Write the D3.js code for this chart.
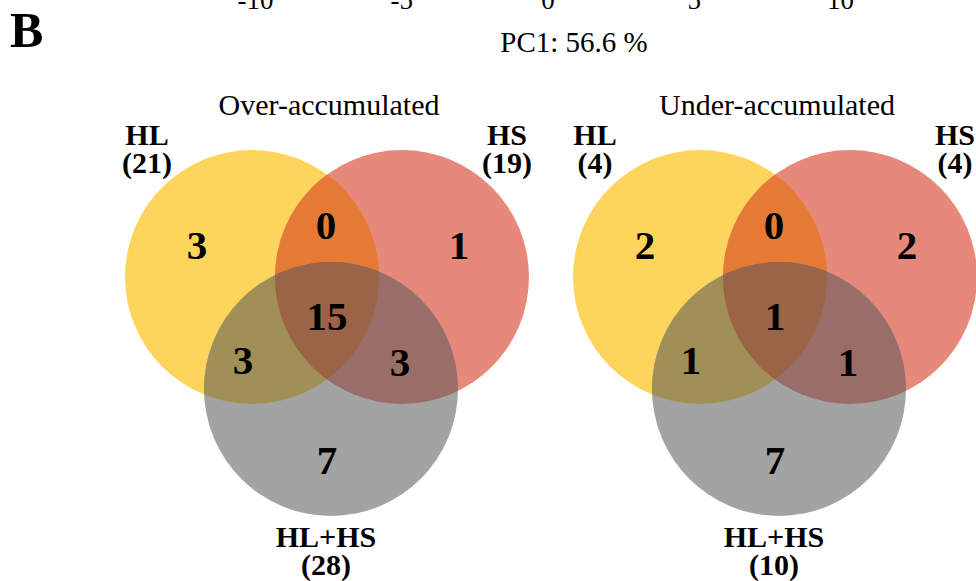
<!DOCTYPE html>
<html>
<head>
<meta charset="utf-8">
<script src="https://cdn.jsdelivr.net/npm/d3@7"></script>
<style>
  html, body { margin: 0; padding: 0; background: #fff; }
  svg { display: block; }
  text { font-family: "Liberation Serif", "Times New Roman", serif; fill: #000; }
</style>
</head>
<body>
<svg id="chart" width="976" height="581"></svg>
<script>
// PC1 axis ticks of the panel above (only their lower edge shows here)
const pcTicks = [-10, -5, 0, 5, 10];
const pcAxisTitle = "PC1: 56.6 %";
const panelLetter = "B";

// Venn panels
const panelTitles = ["Over-accumulated", "Under-accumulated"];
const setNames = ["HL", "HS", "HL+HS"];
const setTotals = [[21, 19, 28], [4, 4, 10]];
// region order: HL only, HS only, HL∩HS only, HL+HS only, HL∩HL+HS only, HS∩HL+HS only, all three
const regionKeys = ["a", "b", "ab", "c", "ac", "bc", "abc"];
const regionCounts = [
  [3, 1, 0, 7, 3, 3, 15],
  [2, 2, 0, 7, 1, 1, 1]
];

const setColors = ["#fdd55c", "#e7897a", "#a3a3a3"];
const overlapColors = { ab: "#e57a34", ac: "#a19056", bc: "#9a6e68", abc: "#9b6447" };

const serif = '"Liberation Serif", "Times New Roman", serif';
const svg = d3.select("#chart");

// Axis tick labels at the very top
const x = d3.scaleLinear().domain([-10, 10]).range([255, 840]);
const axis = svg.append("g")
  .attr("transform", "translate(0,-19.5)")
  .call(d3.axisBottom(x).tickValues(pcTicks).tickFormat(d => String(d)).tickSize(6));
axis.attr("font-family", null);
axis.select(".domain").remove();
axis.selectAll(".tick line").remove();
axis.selectAll(".tick text")
  .style("font-family", serif)
  .style("font-size", "27px")
  .attr("fill", "#000");

svg.append("text")
  .attr("x", 574).attr("y", 52)
  .attr("text-anchor", "middle")
  .style("font-size", "29px")
  .text(pcAxisTitle);

svg.append("text")
  .attr("x", 10).attr("y", 47)
  .style("font-size", "50px").style("font-weight", "bold")
  .text(panelLetter);

// Venn layout (circle centres relative to each panel origin)
const r = 127;
const panelX = [0, 448];
const centres = [[252, 277], [402, 277], [331, 389]];
const regionPos = {
  a: [197, 245], b: [459, 245], ab: [326, 225], c: [327, 460],
  ac: [243, 360], bc: [400, 362], abc: [327, 316]
};

const defs = svg.append("defs");

panelTitles.forEach((title, p) => {
  const g = svg.append("g").attr("transform", `translate(${panelX[p]},0)`);
  const ids = setNames.map((_, i) => `clip-${p}-${i}`);
  // clip paths are in the user space of the element using them
  ids.forEach((id, i) => {
    defs.append("clipPath").attr("id", id)
      .append("circle")
      .attr("cx", centres[i][0]).attr("cy", centres[i][1]).attr("r", r);
  });

  const circ = (sel, i) => sel.append("circle")
    .attr("cx", centres[i][0]).attr("cy", centres[i][1]).attr("r", r);

  // whole sets
  setNames.forEach((_, i) => circ(g, i).attr("fill", setColors[i]));
  // pairwise overlaps
  circ(g, 1).attr("clip-path", `url(#${ids[0]})`).attr("fill", overlapColors.ab);
  circ(g, 2).attr("clip-path", `url(#${ids[0]})`).attr("fill", overlapColors.ac);
  circ(g, 2).attr("clip-path", `url(#${ids[1]})`).attr("fill", overlapColors.bc);
  // triple overlap
  const gAll = g.append("g").attr("clip-path", `url(#${ids[1]})`);
  circ(gAll, 2).attr("clip-path", `url(#${ids[0]})`).attr("fill", overlapColors.abc);

  // region counts
  regionKeys.forEach((k, j) => {
    g.append("text")
      .attr("x", regionPos[k][0]).attr("y", regionPos[k][1] + 14)
      .attr("text-anchor", "middle")
      .style("font-size", "41px").style("font-weight", "bold")
      .text(regionCounts[p][j]);
  });

  // panel title
  g.append("text")
    .attr("x", 329).attr("y", 115)
    .attr("text-anchor", "middle")
    .style("font-size", "30px")
    .text(title);

  // set labels
  const labelPos = [[147, 145], [507, 145], [326, 547]];
  setNames.forEach((name, i) => {
    const t = g.append("text")
      .attr("text-anchor", "middle")
      .style("font-size", "30px").style("font-weight", "bold");
    t.append("tspan").attr("x", labelPos[i][0]).attr("y", labelPos[i][1]).text(name);
    t.append("tspan").attr("x", labelPos[i][0]).attr("y", labelPos[i][1] + 28)
      .text(`(${setTotals[p][i]})`);
  });
});
</script>
</body>
</html>
